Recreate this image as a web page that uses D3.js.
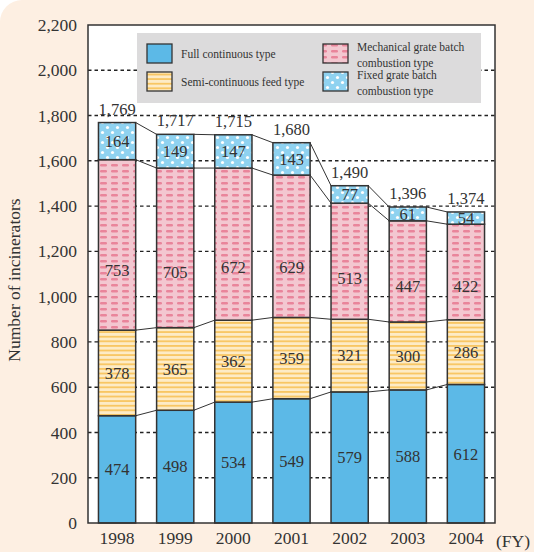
<!DOCTYPE html>
<html>
<head>
<meta charset="utf-8">
<script src="https://cdn.jsdelivr.net/npm/d3@7"></script>
<style>
  html, body { margin: 0; padding: 0; background: #fff; }
  svg { display: block; }
  svg text { font-family: "Liberation Serif", "DejaVu Serif", serif; }
</style>
</head>
<body>
<svg id="chart"></svg>
<script>
const years = ["1998", "1999", "2000", "2001", "2002", "2003", "2004"];
const fullCont = [474, 498, 534, 549, 579, 588, 612];
const semiCont = [378, 365, 362, 359, 321, 300, 286];
const mechBatch = [753, 705, 672, 629, 513, 447, 422];
const fixedBatch = [164, 149, 147, 143, 77, 61, 54];
const totals = [1769, 1717, 1715, 1680, 1490, 1396, 1374];
const yTicks = [0, 200, 400, 600, 800, 1000, 1200, 1400, 1600, 1800, 2000, 2200];

const width = 534;
const height = 552;
const plot = { left: 88, right: 495, top: 25, bottom: 523 };
const serif = "Liberation Serif, DejaVu Serif, serif";

const svg = d3.select("#chart").attr("width", width).attr("height", height)
  .attr("font-family", serif);

// patterns
const defs = svg.append("defs");
const pSemi = defs.append("pattern").attr("id", "p-semi").attr("patternUnits", "userSpaceOnUse")
  .attr("width", 8).attr("height", 4.6);
pSemi.append("rect").attr("width", 8).attr("height", 4.6).attr("fill", "#fdebc6");
pSemi.append("rect").attr("y", 0).attr("width", 8).attr("height", 1.8).attr("fill", "#f8c662");

const pMech = defs.append("pattern").attr("id", "p-mech").attr("patternUnits", "userSpaceOnUse")
  .attr("width", 11).attr("height", 6);
pMech.append("rect").attr("width", 11).attr("height", 6).attr("fill", "#f3c7d0");
pMech.append("rect").attr("x", 1).attr("y", 2).attr("width", 7).attr("height", 2.4).attr("rx", 1.2).attr("fill", "#e9859b");

const pFixed = defs.append("pattern").attr("id", "p-fixed").attr("patternUnits", "userSpaceOnUse")
  .attr("width", 10).attr("height", 10);
pFixed.append("rect").attr("width", 10).attr("height", 10).attr("fill", "#8fd2f0");
pFixed.append("circle").attr("cx", 2.5).attr("cy", 2.5).attr("r", 1.6).attr("fill", "#fff");
pFixed.append("circle").attr("cx", 7.5).attr("cy", 7.5).attr("r", 1.6).attr("fill", "#fff");

const fills = ["#5cb9e7", "url(#p-semi)", "url(#p-mech)", "url(#p-fixed)"];

// background
svg.append("rect").attr("width", width).attr("height", height).attr("fill", "#fff");
svg.append("rect").attr("x", 0).attr("y", 0).attr("width", width + 30).attr("height", height + 30)
  .attr("rx", 22).attr("fill", "#fdefe2");
svg.append("rect").attr("x", plot.left).attr("y", plot.top)
  .attr("width", plot.right - plot.left).attr("height", plot.bottom - plot.top).attr("fill", "#fff");

const x = d3.scaleBand().domain(years).range([plot.left, plot.right])
  .paddingInner(0.36).paddingOuter(0.18);
const y = d3.scaleLinear().domain([0, 2200]).range([plot.bottom, plot.top]);

// grid lines
svg.append("g").selectAll("line").data(yTicks.filter(d => d > 0 && d < 2200)).enter().append("line")
  .attr("x1", plot.left).attr("x2", plot.right)
  .attr("y1", d => y(d)).attr("y2", d => y(d))
  .attr("stroke", "#222").attr("stroke-width", 1.4).attr("stroke-dasharray", "3.5,3");

// stacked data
const rows = years.map((yr, i) => ({ year: yr, s0: fullCont[i], s1: semiCont[i], s2: mechBatch[i], s3: fixedBatch[i] }));
const stacked = d3.stack().keys(["s0", "s1", "s2", "s3"])(rows);

// connector lines between bars
stacked.forEach(layer => {
  for (let i = 0; i < years.length - 1; i++) {
    svg.append("line")
      .attr("x1", x(years[i]) + x.bandwidth()).attr("y1", y(layer[i][1]))
      .attr("x2", x(years[i + 1])).attr("y2", y(layer[i + 1][1]))
      .attr("stroke", "#333").attr("stroke-width", 1);
  }
});

// bars
stacked.forEach((layer, k) => {
  svg.append("g").selectAll("rect").data(layer).enter().append("rect")
    .attr("x", d => x(d.data.year))
    .attr("y", d => y(d[1]))
    .attr("width", x.bandwidth())
    .attr("height", d => y(d[0]) - y(d[1]))
    .attr("fill", fills[k])
    .attr("stroke", "#333").attr("stroke-width", 1.5);
});

// value labels (mechanical labels sit lower in their segment, like the original)
const labelPos = [0.5, 0.5, 0.35, 0.5];
stacked.forEach((layer, k) => {
  svg.append("g").selectAll("text").data(layer).enter().append("text")
    .attr("x", d => x(d.data.year) + x.bandwidth() / 2)
    .attr("y", d => y(d[0] + (d[1] - d[0]) * labelPos[k]))
    .attr("dy", "0.35em")
    .attr("text-anchor", "middle")
    .attr("font-family", serif)
    .attr("font-size", 16.5).attr("fill", "#333")
    .text(d => d[1] - d[0]);
});

// totals
svg.append("g").selectAll("text").data(totals).enter().append("text")
  .attr("x", (d, i) => x(years[i]) + x.bandwidth() / 2)
  .attr("y", d => y(d) - 8)
  .attr("text-anchor", "middle")
  .attr("font-family", serif)
  .attr("font-size", 16.5).attr("fill", "#333")
  .text(d => d3.format(",")(d));

// frame
svg.append("rect").attr("x", plot.left).attr("y", plot.top)
  .attr("width", plot.right - plot.left).attr("height", plot.bottom - plot.top)
  .attr("fill", "none").attr("stroke", "#333").attr("stroke-width", 1.5);

// y axis
const yAxis = d3.axisLeft(y).tickValues(yTicks).tickFormat(d3.format(",")).tickSize(0).tickPadding(11);
const gy = svg.append("g").attr("transform", "translate(" + plot.left + ",0)").call(yAxis)
  .attr("font-family", serif);
gy.select(".domain").remove();
gy.selectAll("text").attr("font-size", 17.5).attr("fill", "#333");

// x axis
const xAxis = d3.axisBottom(x).tickSize(0).tickPadding(9);
const gx = svg.append("g").attr("transform", "translate(0," + plot.bottom + ")").call(xAxis)
  .attr("font-family", serif);
gx.select(".domain").remove();
gx.selectAll("text").attr("font-size", 17.5).attr("fill", "#333");

svg.append("text").attr("x", 513).attr("y", 547).attr("text-anchor", "middle")
  .attr("font-size", 17.5).attr("fill", "#333").text("(FY)");

svg.append("text")
  .attr("transform", "translate(20," + ((plot.top + plot.bottom) / 2 + 6) + ") rotate(-90)")
  .attr("text-anchor", "middle").attr("font-size", 17.5).attr("fill", "#333")
  .text("Number of incinerators");

// legend
const lg = svg.append("g");
lg.append("rect").attr("x", 137).attr("y", 33).attr("width", 344).attr("height", 70).attr("fill", "#dcdbdc");
const legendItems = [
  { x: 147, y: 44, lines: ["Full continuous type"] },
  { x: 147, y: 72, lines: ["Semi-continuous feed type"] },
  { x: 323, y: 44, lines: ["Mechanical grate batch", "combustion type"] },
  { x: 323, y: 72, lines: ["Fixed grate batch", "combustion type"] }
];
legendItems.forEach((it, k) => {
  lg.append("rect").attr("x", it.x).attr("y", it.y).attr("width", 25).attr("height", 19)
    .attr("fill", fills[k]).attr("stroke", "#333").attr("stroke-width", 1.3);
  const t = lg.append("text").attr("x", it.x + 34).attr("font-size", 11.5).attr("fill", "#333");
  if (it.lines.length === 1) {
    t.attr("y", it.y + 13.5).text(it.lines[0]);
  } else {
    it.lines.forEach((ln, j) => {
      t.append("tspan").attr("x", it.x + 34).attr("y", it.y + 7 + j * 15.5).text(ln);
    });
  }
});
</script>
</body>
</html>
